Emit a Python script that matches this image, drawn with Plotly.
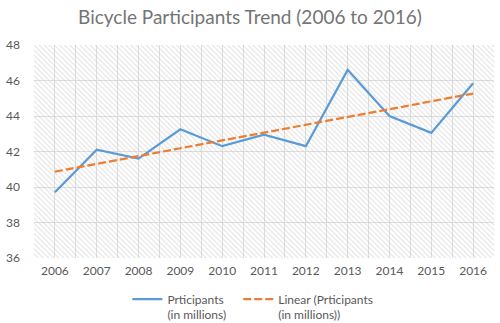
import numpy as np
import plotly.graph_objects as go

# Yearly bicycle participants (millions)
years = [2006, 2007, 2008, 2009, 2010, 2011, 2012, 2013, 2014, 2015, 2016]
participants = [39.7, 42.1, 41.6, 43.25, 42.3, 42.95, 42.3, 46.6, 44.0, 43.05, 45.85]
y_ticks = [36, 38, 40, 42, 44, 46, 48]

y_min, y_max = y_ticks[0], y_ticks[-1]

# Least-squares linear trend
slope, intercept = np.polyfit(years, participants, 1)
trend = [slope * yr + intercept for yr in years]

fig = go.Figure()

# Hatched plot-area background, one cell per year
fig.add_trace(go.Bar(
    x=years, y=[y_max - y_min] * len(years), base=y_min, width=1,
    marker=dict(color="rgba(0,0,0,0)", line=dict(width=0),
                pattern=dict(shape="\\", fgcolor="#c8c8c8", fillmode="overlay",
                             size=3.6, solidity=0.3)),
    showlegend=False, hoverinfo="skip",
))

fig.add_trace(go.Scatter(
    x=years, y=participants, mode="lines",
    name="Prticipants<br>(in millions)",
    line=dict(color="#5B9BD5", width=2.25),
    legend="legend",
))
fig.add_trace(go.Scatter(
    x=years, y=trend, mode="lines",
    name="Linear (Prticipants<br>(in millions))",
    line=dict(color="#ED7D31", width=2.25, dash="8px,3px"),
    legend="legend2",
))

legend_style = dict(orientation="h", yref="container", y=0.118, yanchor="top",
                    xanchor="left", valign="top", itemwidth=30,
                    font=dict(size=12, color="#595959"), bgcolor="rgba(0,0,0,0)")

fig.update_layout(
    width=500, height=323,
    margin=dict(l=26, r=6, t=45, b=65),
    paper_bgcolor="white", plot_bgcolor="white",
    font=dict(family="Lato, Carlito, Calibri, sans-serif", size=12, color="#595959"),
    title=dict(text="Bicycle Participants Trend (2006 to 2016)",
               x=0.5, xanchor="center", y=0.947, yanchor="middle",
               font=dict(size=19, color="#757575")),
    bargap=0,
    legend=dict(x=0.203, **legend_style),
    legend2=dict(x=0.444, **legend_style),
    xaxis=dict(range=[2005.5, 2016.5], tickvals=years, ticktext=[str(y) for y in years],
               showgrid=True, gridcolor="#dedede", gridwidth=1,
               minor=dict(dtick=0.5, tick0=2005.5, showgrid=True, gridcolor="#dedede"),
               zeroline=False, showline=False, ticks="", ticklabelstandoff=4,
               fixedrange=True),
    yaxis=dict(range=[y_min, y_max], tickvals=y_ticks,
               showgrid=True, gridcolor="#dedede", gridwidth=1,
               zeroline=False, showline=False, ticks="", ticklabelstandoff=13,
               fixedrange=True),
)

fig.write_html("out.html")
